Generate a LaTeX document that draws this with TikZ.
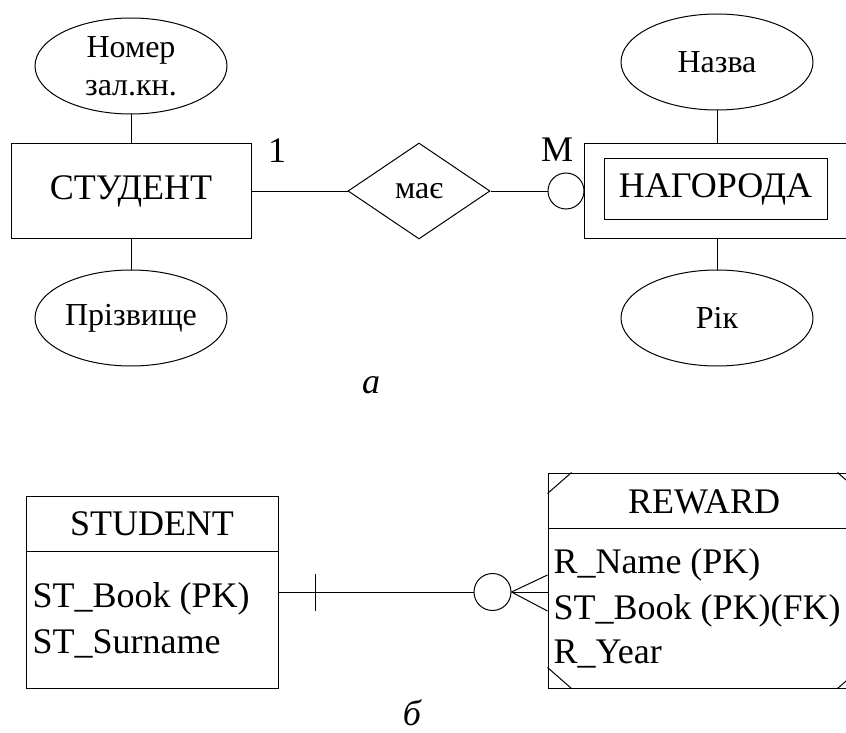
\documentclass[tikz,border=0pt]{standalone}
\usepackage{fontspec}
\setmainfont{Liberation Serif}
\newfontfamily\erfont{Liberation Serif}
\usetikzlibrary{shapes.geometric,positioning}

\tikzset{
  attr/.style={draw,ellipse,minimum width=192pt,minimum height=96pt,inner sep=0pt,
    align=center,font=\erfont\fontsize{32}{38}\selectfont},
  ent/.style={draw,rectangle,minimum width=240pt,minimum height=94pt,inner sep=0pt,
    font=\erfont\fontsize{36}{40}\selectfont},
  rel/.style={draw,diamond,minimum width=142pt,minimum height=96pt,inner sep=0pt,
    font=\erfont\fontsize{32}{36}\selectfont},
  opt/.style={draw,circle,inner sep=0pt},
  big/.style={inner sep=0pt,font=\erfont\fontsize{36}{40}\selectfont},
}

\begin{document}
\begin{tikzpicture}[x=1pt, y=-1pt, line width=1pt]
    \useasboundingbox (0,0) rectangle (846,733);
    \clip (0,0) rectangle (846,733);
    % (a) ER diagram, coordinates in pixels from the top left
    \node[ent] (stud) at (131,191) {СТУДЕНТ};
    \node[attr] (nomer) at (131,66) {Номер\\зал.кн.};
    \node[attr] (prizv) at (131,318) {Прізвище};
    \node[rel] (mae) at (419,191) {має};
    \node[opt,minimum size=36pt] (opt1) at (566,191) {};
    \node[draw,minimum width=266pt,minimum height=94pt,inner sep=0pt] (nag) at (717,191) {};
    \node[draw,big,minimum width=223pt,minimum height=60pt] (naginner) at (715.5,189) {НАГОРОДА};
    \node[attr] (nazva) at (717,62) {Назва};
    \node[attr] (rik) at (717,318) {Рік};
    \node[big] (one) at (277,151) {1};
    \node[big] (many) at (557,150) {M};
    \node[big,anchor=base] (capa) at (371,393) {\itshape a};
    \draw (nomer) -- (stud);
    \draw (stud) -- (prizv);
    \draw (stud) -- (mae);
    \draw (mae) -- (opt1);
    \draw (nazva) -- (nag);
    \draw (nag) -- (rik);

    % (b) IDEF1X diagram
    \node[draw,minimum width=252pt,minimum height=192pt,inner sep=0pt] (stud2) at (152,592) {};
    \draw ([yshift=-56pt]stud2.north west) -- ([yshift=-56pt]stud2.north east);
    \node[big] (studtitle) at (152,524) {STUDENT};
    \node[big,anchor=base west] (stbook) at (32,607) {ST\_Book (PK)};
    \node[big,anchor=base west] (stsurn) at (32,653) {ST\_Surname};

    \node[draw,minimum width=313pt,minimum height=215pt,inner sep=0pt] (rew) at (704.5,580.5) {};
    \draw ([yshift=-56pt]rew.north west) -- ([yshift=-56pt]rew.north east);
    \draw ([yshift=-21pt]rew.north west) -- ([xshift=24pt]rew.north west);
    \draw ([yshift=21pt]rew.south west) -- ([xshift=24pt]rew.south west);
    \draw ([yshift=-21pt]rew.north east) -- ([xshift=-24pt]rew.north east);
    \draw ([yshift=21pt]rew.south east) -- ([xshift=-24pt]rew.south east);
    \node[big] (rewtitle) at (704,502) {REWARD};
    \node[big,anchor=base west] (rname) at (553,573) {R\_Name (PK)};
    \node[big,anchor=base west] (rbook) at (553,619) {ST\_Book (PK)(FK)};
    \node[big,anchor=base west] (ryear) at (553,663) {R\_Year};

    \node[opt,minimum size=37pt] (opt2) at (492.5,592) {};
    \coordinate (cf1) at ([yshift=5.5pt]rew.west);
    \coordinate (cf2) at ([yshift=-11.5pt]rew.west);
    \coordinate (cf3) at ([yshift=-30.5pt]rew.west);
    \draw (stud2.east) -- (opt2);
    \draw ([xshift=37pt,yshift=18.5pt]stud2.east) -- ([xshift=37pt,yshift=-18.5pt]stud2.east);
    \draw (opt2.east) -- (cf1);
    \draw (opt2.east) -- (cf2);
    \draw (opt2.east) -- (cf3);
    \node[big,anchor=base] (capb) at (412,725) {\itshape б};
\end{tikzpicture}
\end{document}
